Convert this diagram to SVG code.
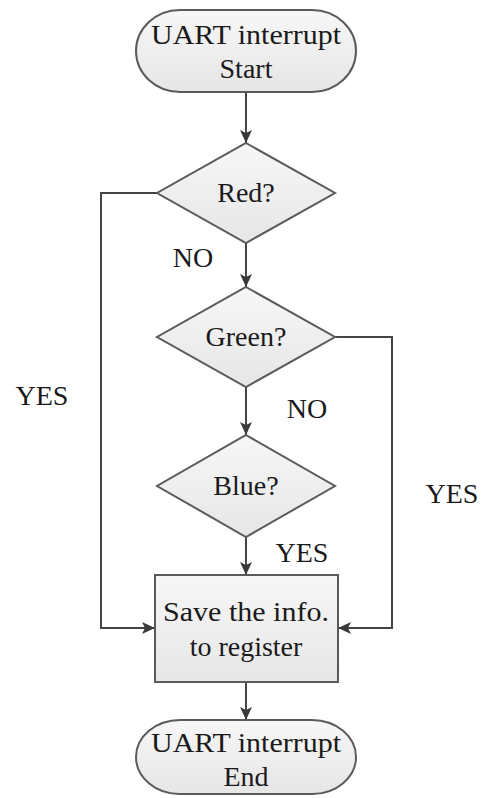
<svg xmlns="http://www.w3.org/2000/svg" width="482" height="798" viewBox="0 0 482 798">
<defs>
<linearGradient id="g" x1="0" y1="0" x2="0" y2="1">
<stop offset="0" stop-color="#f7f7f7"/>
<stop offset="1" stop-color="#e6e6e6"/>
</linearGradient>
<marker id="ah" markerWidth="14" markerHeight="14" refX="13" refY="7" orient="auto" markerUnits="userSpaceOnUse">
<path d="M0,1 L13,7 L0,13 L3,7 Z" fill="#3a3a3a"/>
</marker>
<style>
.shape{fill:url(#g);stroke:#5a5a5a;stroke-width:2}
.c{fill:none;stroke:#444;stroke-width:2;marker-end:url(#ah)}
</style>
</defs>
<rect width="482" height="798" fill="#ffffff"/>
<g id="connectors">
<path class="c" d="M246,92 V143"/>
<path class="c" d="M246,243 V287"/>
<path class="c" d="M246,387 V435"/>
<path class="c" d="M246,537 V575"/>
<path class="c" d="M157,193 H101 V628 H155"/>
<path class="c" d="M335,337 H392 V628 H338"/>
<path class="c" d="M246,682 V720"/>
</g>
<g font-family="'Times New Roman', 'Liberation Serif', Tinos, 'DejaVu Serif', serif" font-size="28" fill="#1a1a1a" text-anchor="middle">
<g id="start">
<rect class="shape" x="136" y="10" width="220" height="82" rx="44" ry="41"/>
<text x="246" y="44" textLength="190" lengthAdjust="spacingAndGlyphs">UART interrupt</text>
<text x="246" y="78">Start</text>
</g>
<g id="red">
<polygon class="shape" points="246,143 335,193 246,243 157,193"/>
<text x="246" y="202">Red?</text>
</g>
<g id="green">
<polygon class="shape" points="246,287 335,337 246,387 157,337"/>
<text x="246" y="346">Green?</text>
</g>
<g id="blue">
<polygon class="shape" points="246,435 335,486 246,537 157,486"/>
<text x="246" y="495">Blue?</text>
</g>
<g id="save">
<rect class="shape" x="155" y="575" width="183" height="107"/>
<text x="246" y="621" textLength="166" lengthAdjust="spacingAndGlyphs">Save the info.</text>
<text x="246" y="656">to register</text>
</g>
<g id="end">
<rect class="shape" x="136" y="720" width="220" height="74" rx="44" ry="37"/>
<text x="246" y="752" textLength="190" lengthAdjust="spacingAndGlyphs">UART interrupt</text>
<text x="246" y="786">End</text>
</g>
<g id="labels">
<text x="193" y="267">NO</text>
<text x="307" y="418">NO</text>
<text x="42" y="405">YES</text>
<text x="452" y="503">YES</text>
<text x="302" y="562">YES</text>
</g>
</g>
</svg>
